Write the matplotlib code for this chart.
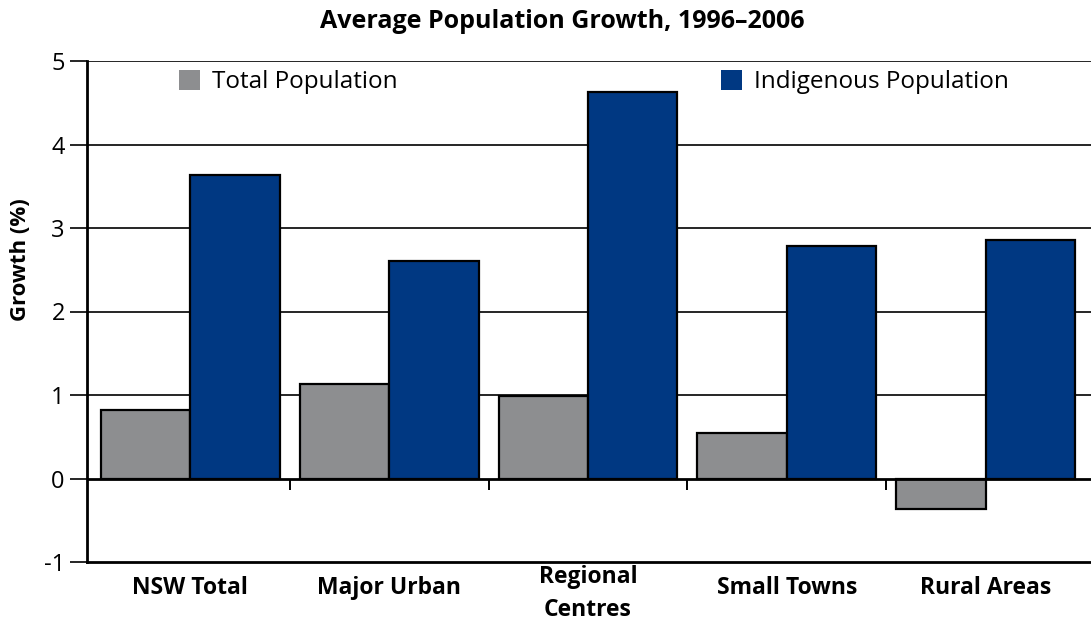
import matplotlib; matplotlib.use("Agg"); import matplotlib.pyplot as plt
import numpy as np

# data
categories = ["NSW Total", "Major Urban", "Regional\nCentres", "Small Towns", "Rural Areas"]
total_pop = [0.82, 1.13, 0.99, 0.55, -0.37]
indigenous_pop = [3.64, 2.61, 4.63, 2.79, 2.86]
series_names = ["Total Population", "Indigenous Population"]
yticks = [-1, 0, 1, 2, 3, 4, 5]

plt.rcParams["font.family"] = ["Open Sans", "DejaVu Sans"]

fig = plt.figure(figsize=(10.91, 6.23), dpi=100)
ax = fig.add_axes([87/1091, 1 - 562/623, 1 - 87/1091, (562 - 61)/623])

x = np.arange(len(categories))
w = 0.45
gray, blue = "#8D8E90", "#003882"

# gridlines first so bars sit on top
for yv in yticks[2:]:
    ax.axhline(yv, color="black", lw=1.2, zorder=1)

ax.bar(x - w/2, total_pop, w, color=gray, edgecolor="black", lw=1.6,
       label=series_names[0], zorder=2)
ax.bar(x + w/2, indigenous_pop, w, color=blue, edgecolor="black", lw=1.6,
       label=series_names[1], zorder=2)
ax.axhline(0, color="black", lw=2, zorder=3)

# small separators between categories below the zero line
ax.vlines(x[:-1] + 0.5, -0.14, 0, color="black", lw=1.4, zorder=3)

ax.set_xlim(-0.52, len(categories) - 0.47)
ax.set_ylim(-1, 5)
ax.set_yticks(yticks)
ax.set_yticklabels([str(v) for v in yticks], fontsize=17)
ax.set_xticks(x)
ax.set_xticklabels([])
ax.tick_params(axis="x", length=0)
ax.tick_params(axis="y", length=12, width=1.2, pad=4)

# category names: single-line ones sit on one baseline, the two-line one drops lower
xt = ax.get_xaxis_transform()
for i, name in enumerate(categories):
    ypos = -0.108 if "\n" in name else -0.064
    ax.text(i, ypos, name, transform=xt, ha="center", va="baseline",
            fontsize=16.5, fontweight="bold", linespacing=1.5, clip_on=False)

for s in ["top", "right"]:
    ax.spines[s].set_visible(False)
ax.spines["left"].set_linewidth(2)
ax.spines["bottom"].set_linewidth(2)

ax.set_ylabel("Growth (%)", fontsize=16, fontweight="bold")
ax.yaxis.set_label_coords(-56/1004, (562 - 260)/501)
fig.text(562/1091, 1 - 22/623, "Average Population Growth, 1996\u20132006",
         ha="center", va="center", fontsize=18, fontweight="bold")

leg = ax.legend(ncol=2, loc="upper left", bbox_to_anchor=(0.07, 1.025),
                frameon=False, fontsize=17.5, handlelength=0.85, handleheight=0.85,
                handletextpad=0.5, columnspacing=13.3)
for h in leg.legend_handles:
    h.set_edgecolor("none")

fig.savefig("out.png", dpi=100)
